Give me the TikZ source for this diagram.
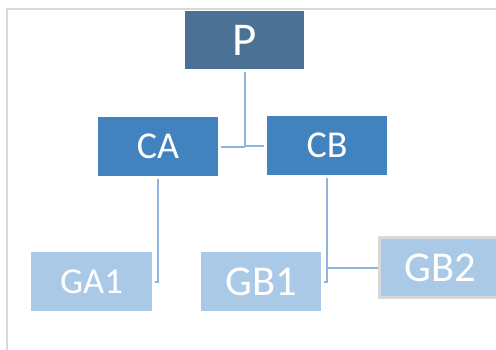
\documentclass[tikz,border=0pt]{standalone}
\usepackage{fontspec}
\setmainfont{Carlito}
\definecolor{topc}{HTML}{4B7294}
\definecolor{midc}{HTML}{4282BE}
\definecolor{lowc}{HTML}{A9C9E7}
\definecolor{linec}{HTML}{8FB4E0}
\definecolor{framec}{HTML}{D9D9D9}
\begin{document}
\begin{tikzpicture}[x=1pt,y=-1pt,
  box/.style={rectangle, inner sep=0pt, text=white, text depth=0pt},
  conn/.style={draw=linec, line width=2pt, shorten <=3pt, shorten >=3pt}]
\useasboundingbox (0,0) rectangle (496,349);
\draw[framec, line width=1.5pt] (7,352) -- (7,9) -- (500,9);
\node[box, fill=topc, minimum width=119pt, minimum height=58pt, text height=30pt, font=\fontsize{47}{47}\selectfont] (P) at (244.5,40) {P};
\node[box, fill=midc, minimum width=120pt, minimum height=59pt, text height=24pt, font=\fontsize{38}{38}\selectfont] (CA) at (158,146.5) {CA};
\node[box, fill=midc, minimum width=120pt, minimum height=59pt, text height=24pt, font=\fontsize{38}{38}\selectfont] (CB) at (327,145.5) {CB};
\node[box, fill=lowc, minimum width=121pt, minimum height=59pt, text height=23pt, font=\fontsize{36.5}{36.5}\selectfont] (GA1) at (91.5,281.5) {GA1};
\node[box, fill=lowc, minimum width=120pt, minimum height=59pt, text height=27pt, font=\fontsize{42.5}{42.5}\selectfont] (GB1) at (261,281.5) {GB1};
\node[box, fill=lowc, draw=framec, line width=3pt, minimum width=121pt, minimum height=60pt, text height=27pt, font=\fontsize{42.5}{42.5}\selectfont] (GB2) at (440,267.5) {GB2};
\draw[conn, shorten >=0pt] (P.south) -- (P.south |- CA.east);
\draw[conn, shorten <=0pt] (P.south |- CA.east) -- (CA.east);
\draw[conn, shorten <=0pt] (P.south |- CB.west) -- (CB.west);
\draw[conn] (CA.south) |- (GA1.east);
\draw[conn] (CB.south) |- (GB1.east);
\draw[conn, shorten >=0pt] (CB.south) |- (GB2.west);
\end{tikzpicture}
\end{document}
